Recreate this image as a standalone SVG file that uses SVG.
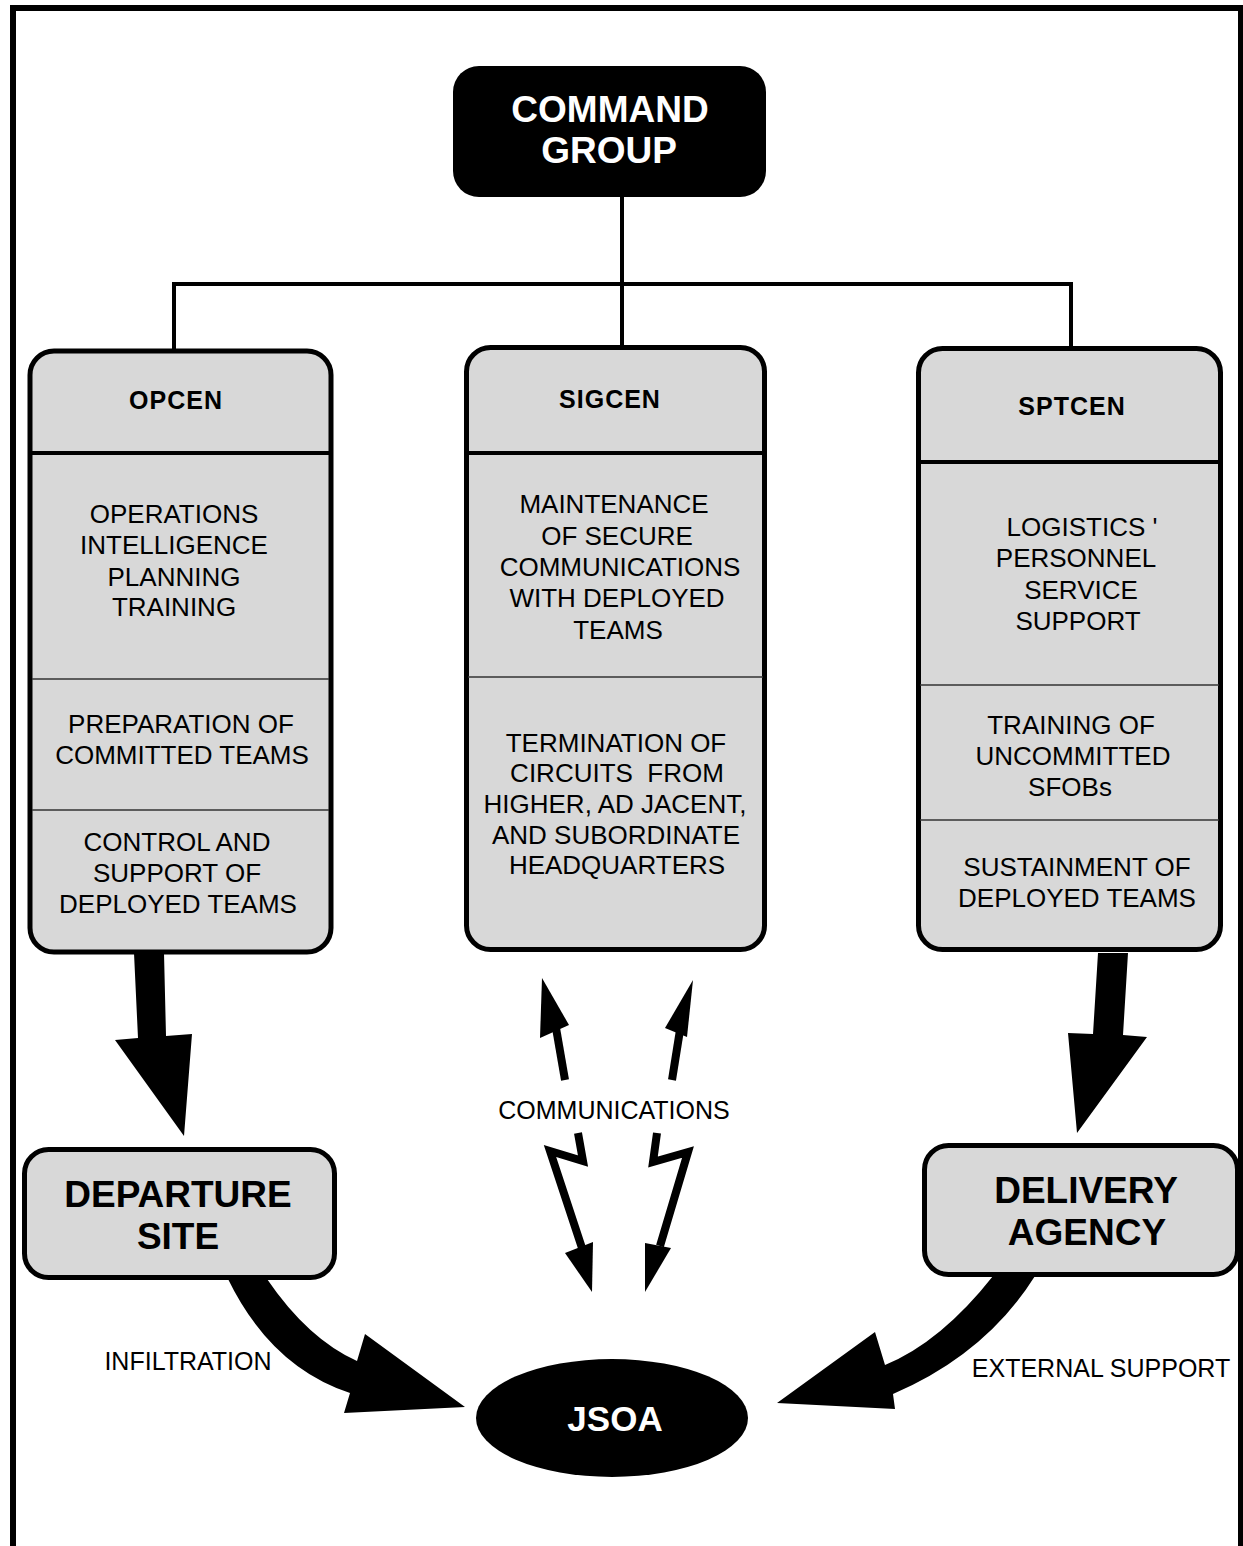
<svg xmlns="http://www.w3.org/2000/svg" width="1243" height="1546" viewBox="0 0 1243 1546">
<style>
text{font-family:"Liberation Sans",Arial,sans-serif;fill:#000;text-anchor:middle}
.body{font-size:26px}
.hdr{font-size:25px;font-weight:bold;letter-spacing:1px}
.big{font-size:37px;font-weight:bold}
.lbl{font-size:25px}
.box{fill:#d8d8d8;stroke:#000;stroke-width:5}
.div{stroke:#000;stroke-width:4}
.thin{stroke:#333;stroke-width:1.5}
.wire{stroke:#000;stroke-width:4;fill:none}
.solid{fill:#000;stroke:none}
.bolt{stroke:#000;stroke-width:8;fill:none;stroke-linejoin:miter}
</style>
<rect x="0" y="0" width="1243" height="1546" fill="#fff"/>
<path d="M13,1546 V8 H1241 V1546" fill="none" stroke="#000" stroke-width="6"/>
<line x1="1241" y1="8" x2="1241" y2="1546" stroke="#000" stroke-width="3"/>

<g id="connectors">
  <line class="wire" x1="622" y1="197" x2="622" y2="348"/>
  <line class="wire" x1="172" y1="284" x2="1073" y2="284"/>
  <line class="wire" x1="174" y1="282" x2="174" y2="351"/>
  <line class="wire" x1="1071" y1="282" x2="1071" y2="349"/>
  <polygon class="solid" points="134,953 164,953 166,1036 192,1034 184,1136 115,1040 138,1038"/>
  <polygon class="solid" points="1098,953 1128,953 1123,1035 1147,1037 1077,1133 1068,1033 1093,1034"/>
  <path class="solid" d="M228,1279 Q271,1367 350,1393 L344,1413 L465,1407 L365,1334 L357,1361 Q308,1339 267,1279 Z"/>
  <path class="solid" d="M993,1276 Q941,1342 885,1365 L875,1332 L777,1403 L895,1409 L893,1394 Q986,1354 1035,1276 Z"/>
  <line class="bolt" x1="565" y1="1080" x2="556" y2="1028"/>
  <polygon class="solid" points="542,978 569,1025 540,1038"/>
  <line class="bolt" x1="672" y1="1080" x2="680" y2="1030"/>
  <polygon class="solid" points="693,980 687,1037 665,1028"/>
  <polyline class="bolt" points="578,1133 583,1161 550,1151 582,1248"/>
  <polygon class="solid" points="565,1253 593,1242 592,1292"/>
  <polyline class="bolt" points="657,1133 653,1162 688,1152 660,1246"/>
  <polygon class="solid" points="645,1243 671,1248 645,1292"/>
  <text class="lbl" x="614" y="1119">COMMUNICATIONS</text>
  <text class="lbl" x="188" y="1370">INFILTRATION</text>
  <text class="lbl" x="1101" y="1377">EXTERNAL SUPPORT</text>
</g>

<g id="command-group">
  <rect x="453" y="66" width="313" height="131" rx="26" fill="#000"/>
  <text class="big" x="610" y="122" style="fill:#fff">COMMAND</text>
  <text class="big" x="609" y="163" style="fill:#fff">GROUP</text>
</g>

<g id="opcen">
  <rect class="box" x="30" y="351" width="301" height="601" rx="24"/>
  <line class="div" x1="30" y1="453" x2="331" y2="453"/>
  <line class="thin" x1="32" y1="679" x2="329" y2="679"/>
  <line class="thin" x1="32" y1="810" x2="329" y2="810"/>
  <text class="hdr" x="176" y="409">OPCEN</text>
  <text class="body" x="174" y="523">OPERATIONS</text>
  <text class="body" x="174" y="554">INTELLIGENCE</text>
  <text class="body" x="174" y="586">PLANNING</text>
  <text class="body" x="174" y="616">TRAINING</text>
  <text class="body" x="181" y="733">PREPARATION OF</text>
  <text class="body" x="182" y="764">COMMITTED TEAMS</text>
  <text class="body" x="177" y="851">CONTROL AND</text>
  <text class="body" x="177" y="882">SUPPORT OF</text>
  <text class="body" x="178" y="913">DEPLOYED TEAMS</text>
</g>

<g id="sigcen">
  <rect class="box" x="466.5" y="347.5" width="298" height="602" rx="24"/>
  <line class="div" x1="466" y1="453" x2="765" y2="453"/>
  <line class="thin" x1="468" y1="677" x2="763" y2="677"/>
  <text class="hdr" x="610" y="408">SIGCEN</text>
  <text class="body" x="614" y="513">MAINTENANCE</text>
  <text class="body" x="617" y="545">OF SECURE</text>
  <text class="body" x="620" y="576">COMMUNICATIONS</text>
  <text class="body" x="617" y="607">WITH DEPLOYED</text>
  <text class="body" x="618" y="639">TEAMS</text>
  <text class="body" x="616" y="752">TERMINATION OF</text>
  <text class="body" x="617" y="782" xml:space="preserve">CIRCUITS  FROM</text>
  <text class="body" x="615" y="813">HIGHER, AD JACENT,</text>
  <text class="body" x="616" y="844">AND SUBORDINATE</text>
  <text class="body" x="617" y="874">HEADQUARTERS</text>
</g>

<g id="sptcen">
  <rect class="box" x="918.5" y="348.5" width="302" height="601" rx="24"/>
  <line class="div" x1="918" y1="462" x2="1221" y2="462"/>
  <line class="thin" x1="920" y1="685" x2="1219" y2="685"/>
  <line class="thin" x1="920" y1="820" x2="1219" y2="820"/>
  <text class="hdr" x="1072" y="415">SPTCEN</text>
  <text class="body" x="1082" y="536">LOGISTICS '</text>
  <text class="body" x="1076" y="567">PERSONNEL</text>
  <text class="body" x="1081" y="599">SERVICE</text>
  <text class="body" x="1078" y="630">SUPPORT</text>
  <text class="body" x="1071" y="734">TRAINING OF</text>
  <text class="body" x="1073" y="765">UNCOMMITTED</text>
  <text class="body" x="1070" y="796">SFOBs</text>
  <text class="body" x="1077" y="876">SUSTAINMENT OF</text>
  <text class="body" x="1077" y="907">DEPLOYED TEAMS</text>
</g>

<g id="departure-site">
  <rect class="box" x="24.5" y="1149.5" width="310" height="128" rx="24"/>
  <text class="big" x="178" y="1207">DEPARTURE</text>
  <text class="big" x="178" y="1249">SITE</text>
</g>

<g id="delivery-agency">
  <rect class="box" x="924.5" y="1145.5" width="313" height="129" rx="24"/>
  <text class="big" x="1086" y="1203">DELIVERY</text>
  <text class="big" x="1087" y="1245">AGENCY</text>
</g>

<g id="jsoa">
  <ellipse cx="612" cy="1418" rx="136" ry="59" fill="#000"/>
  <text x="615" y="1431" style="font-size:35px;font-weight:bold;fill:#fff">JSOA</text>
</g>
</svg>
